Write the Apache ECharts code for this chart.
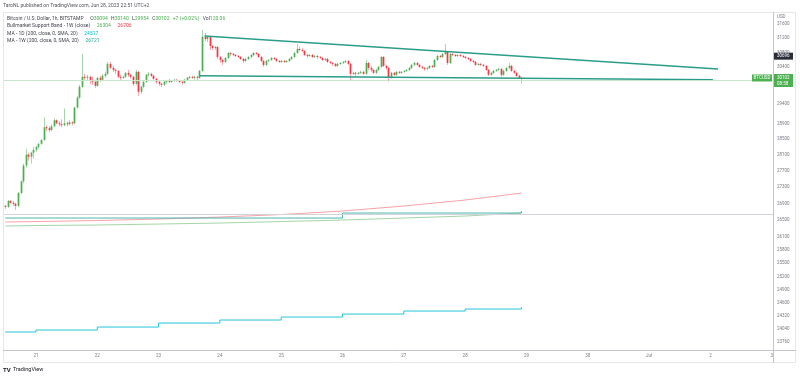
<!DOCTYPE html>
<html lang="en">
<head>
<meta charset="UTF-8">
<title>BTCUSD 1h</title>
<style>
  html, body { margin: 0; padding: 0; background: #fff; }
  #main { width: 800px; height: 378px; }
</style>
</head>
<body>
<div id="main"></div>
<script src="https://cdn.jsdelivr.net/npm/echarts@6.0.0/dist/echarts.min.js"></script>
<script>
// BITSTAMP BTCUSD, 1h bars, chart clock UTC+2, first bar 20 Jun 12:00
// each row: [open, close, low, high]
const ohlc = [
  // 20 Jun
  [26844, 26820, 26773, 26868], [26820, 26963, 26797, 26987], [26963, 26916, 26892, 26987],
  [26916, 26892, 26844, 26963], [26892, 26844, 26749, 26916], [26844, 27154, 26820, 27178],
  [27154, 27440, 27130, 27465], [27440, 27830, 27391, 27880], [27830, 28103, 27780, 28252],
  [28103, 28054, 27954, 28153], [28054, 28153, 27880, 28178], [28153, 28227, 28004, 28302],
  // 21 Jun
  [28227, 28302, 28178, 28327], [28302, 28377, 28252, 28402], [28377, 28477, 28352, 28502],
  [28477, 28803, 28452, 29056], [28803, 28779, 28704, 28854], [28779, 28729, 28679, 28828],
  [28729, 28828, 28704, 28880], [28828, 28982, 28803, 29033], [28982, 28905, 28880, 29008],
  [28905, 28880, 28828, 28957], [28880, 28854, 28803, 29008], [28854, 28905, 28828, 29290],
  [28905, 28880, 28828, 28957], [28880, 28931, 28854, 28982], [28931, 28905, 28854, 28957],
  [28905, 29314, 28880, 29340], [29314, 29574, 29290, 29627], [29574, 29865, 29549, 29919],
  [29865, 30133, 29839, 30757], [30133, 30106, 30052, 30214], [30106, 30133, 30025, 30187],
  [30133, 30052, 29945, 30160], [30052, 29999, 29919, 30133], [29999, 29892, 29839, 30052],
  // 22 Jun
  [29892, 30106, 29865, 30133], [30106, 30052, 29999, 30160], [30052, 30160, 30025, 30214],
  [30160, 30214, 30106, 30268], [30214, 30484, 30187, 30538], [30484, 30375, 30348, 30538],
  [30375, 30321, 30268, 30430], [30321, 30294, 30214, 30348], [30294, 30133, 30106, 30321],
  [30133, 30106, 30052, 30187], [30106, 30133, 30079, 30160], [30133, 30241, 30106, 30268],
  [30241, 30187, 30133, 30321], [30187, 30133, 30079, 30214], [30133, 29945, 29892, 30160],
  [29945, 30268, 29919, 30321], [30268, 29733, 29627, 30294], [29733, 29865, 29680, 29892],
  [29865, 29999, 29839, 30052], [29999, 30187, 29972, 30214], [30187, 30214, 30133, 30268],
  [30214, 30160, 30133, 30241], [30160, 30079, 30052, 30187], [30079, 29999, 29945, 30106],
  // 23 Jun
  [29999, 29945, 29892, 30025], [29945, 29919, 29865, 29972], [29919, 29999, 29892, 30025],
  [29999, 30025, 29945, 30052], [30025, 29999, 29972, 30079], [29999, 30025, 29972, 30052],
  [30025, 30052, 29999, 30079], [30052, 30025, 29999, 30079], [30025, 29999, 29972, 30052],
  [29999, 29972, 29919, 30025], [29972, 30052, 29945, 30079], [30052, 30106, 30025, 30133],
  [30106, 30133, 30079, 30160], [30133, 30106, 30079, 30160], [30106, 30133, 30052, 30160],
  [30133, 30106, 30025, 30160], [30106, 30294, 30079, 30321], [30294, 31228, 30268, 31424],
  [31228, 31172, 31116, 31340], [31172, 31228, 31088, 31256], [31228, 30977, 30867, 31256],
  [30977, 30922, 30867, 31005], [30922, 30950, 30867, 30977], [30950, 30674, 30620, 30977],
  // 24 Jun
  [30674, 30593, 30511, 30702], [30593, 30538, 30457, 30620], [30538, 30647, 30511, 30674],
  [30647, 30784, 30620, 30812], [30784, 30757, 30702, 30812], [30757, 30729, 30702, 30784],
  [30729, 30702, 30674, 30757], [30702, 30674, 30647, 30729], [30674, 30620, 30593, 30702],
  [30620, 30565, 30511, 30647], [30565, 30620, 30538, 30647], [30620, 30674, 30593, 30702],
  [30674, 30729, 30647, 30757], [30729, 30784, 30702, 30812], [30784, 30757, 30729, 30812],
  [30757, 30674, 30647, 30784], [30674, 30565, 30538, 30702], [30565, 30457, 30403, 30593],
  [30457, 30565, 30430, 30593], [30565, 30593, 30538, 30620], [30593, 30647, 30565, 30674],
  [30647, 30620, 30593, 30674], [30620, 30565, 30538, 30647], [30565, 30538, 30511, 30593],
  // 25 Jun
  [30538, 30565, 30511, 30593], [30565, 30538, 30511, 30593], [30538, 30565, 30511, 30593],
  [30565, 30620, 30538, 30647], [30620, 30674, 30593, 30702], [30674, 30784, 30647, 30812],
  [30784, 30894, 30757, 31033], [30894, 30867, 30839, 30950], [30867, 30839, 30812, 30922],
  [30839, 30729, 30702, 30867], [30729, 30702, 30647, 30757], [30702, 30729, 30674, 30757],
  [30729, 30674, 30647, 30757], [30674, 30702, 30647, 30729], [30702, 30674, 30620, 30729],
  [30674, 30647, 30620, 30702], [30647, 30593, 30565, 30674], [30593, 30620, 30565, 30647],
  [30620, 30538, 30511, 30647], [30538, 30511, 30484, 30565], [30511, 30484, 30430, 30538],
  [30484, 30430, 30403, 30511], [30430, 30484, 30403, 30511], [30484, 30511, 30457, 30538],
  // 26 Jun
  [30511, 30538, 30484, 30565], [30538, 30565, 30511, 30593], [30565, 30484, 30457, 30593],
  [30484, 30214, 30025, 30511], [30214, 30241, 30187, 30268], [30241, 30214, 30160, 30268],
  [30214, 30241, 30187, 30268], [30241, 30268, 30214, 30294], [30268, 30214, 30187, 30294],
  [30214, 30511, 30187, 30593], [30511, 30375, 30321, 30538], [30375, 30321, 30268, 30430],
  [30321, 30241, 30214, 30348], [30241, 30321, 30214, 30348], [30321, 30403, 30294, 30430],
  [30403, 30674, 30375, 30702], [30674, 30430, 30403, 30702], [30430, 30375, 30321, 30457],
  [30375, 30106, 29999, 30403], [30106, 30241, 30079, 30268], [30241, 30187, 30160, 30268],
  [30187, 30268, 30160, 30294], [30268, 30241, 30214, 30294], [30241, 30268, 30214, 30294],
  // 27 Jun
  [30268, 30294, 30241, 30321], [30294, 30321, 30268, 30348], [30321, 30375, 30294, 30403],
  [30375, 30457, 30348, 30484], [30457, 30511, 30430, 30538], [30511, 30457, 30430, 30538],
  [30457, 30403, 30375, 30484], [30403, 30375, 30348, 30430], [30375, 30348, 30294, 30403],
  [30348, 30375, 30321, 30403], [30375, 30430, 30348, 30457], [30430, 30403, 30375, 30457],
  [30403, 30593, 30375, 30620], [30593, 30702, 30565, 30729], [30702, 30674, 30647, 30729],
  [30674, 30757, 30647, 30784], [30757, 30812, 30729, 31033], [30812, 30511, 30457, 30839],
  [30511, 30757, 30484, 30784], [30757, 30729, 30702, 30784], [30729, 30702, 30674, 30757],
  [30702, 30729, 30674, 30757], [30729, 30702, 30674, 30757], [30702, 30674, 30647, 30729],
  // 28 Jun
  [30674, 30647, 30620, 30702], [30647, 30620, 30593, 30674], [30620, 30565, 30538, 30647],
  [30565, 30538, 30511, 30593], [30538, 30457, 30430, 30565], [30457, 30484, 30430, 30511],
  [30484, 30457, 30430, 30511], [30457, 30430, 30403, 30484], [30430, 30321, 30294, 30457],
  [30321, 30187, 30160, 30348], [30187, 30241, 30160, 30268], [30241, 30294, 30214, 30321],
  [30294, 30321, 30268, 30348], [30321, 30348, 30294, 30375], [30348, 30187, 30133, 30375],
  [30187, 30294, 30160, 30321], [30294, 30375, 30268, 30403], [30375, 30430, 30348, 30511],
  [30430, 30294, 30268, 30457], [30294, 30241, 30214, 30321], [30241, 30160, 30133, 30268],
  [30160, 30094, 30079, 30187], [30094, 30102, 29954, 30140]
];

// indicator points (daily / weekly values carried on the hourly chart)
const bandTimes = ['2023-06-20 12:00', '2023-06-21 00:00', '2023-06-22 00:00', '2023-06-23 00:00',
  '2023-06-24 00:00', '2023-06-25 00:00', '2023-06-26 00:00', '2023-06-27 00:00',
  '2023-06-28 00:00', '2023-06-28 22:00'];
const bandRed = [26458, 26469, 26493, 26529, 26576, 26636, 26720, 26840, 26984, 27154];
const bandGreen = [26363, 26375, 26387, 26410, 26434, 26469, 26505, 26553, 26600, 26672];
const ma1d = [23975, 24018, 24082, 24169, 24234, 24299, 24364, 24430, 24474, 24517];
const ma1wTimes = ['2023-06-20 12:00', '2023-06-26 00:00', '2023-06-28 22:00'];
const ma1w = [26553, 26672, 26721];

// legend readouts as shown on the chart
const barChange = '+7 (+0.02%)';
const barVolume = '120.06';
const bandLegend = [26304, 26706];
const ma1dLegend = 24517;
const ma1wLegend = 26721;

// drawn trend lines
const upperTrend = [['2023-06-23 18:00', 31256], ['2023-07-02 03:00', 30348]];
const lowerTrend = [['2023-06-23 16:00', 30160], ['2023-07-02 01:00', 30052]];
const levelLine = 26672;
const trendLabel = 30696;

const priceTicks = [31600, 31200, 30800, 30400, 29900, 29400, 28900, 28500, 28100, 27700, 27300,
  26900, 26500, 26100, 25800, 25500, 25200, 24900, 24600, 24320, 24040, 23760];
const priceRange = [23592, 31935];

// hourly time slots, 20 Jun 12:00 .. 3 Jul 00:00
const firstBar = Date.UTC(2023, 5, 20, 12);
const slotCount = 301;
const pad = n => String(n).padStart(2, '0');
const categories = [];
for (let i = 0; i < slotCount; i++) {
  const d = new Date(firstBar + i * 3600e3);
  categories.push(d.getUTCFullYear() + '-' + pad(d.getUTCMonth() + 1) + '-' + pad(d.getUTCDate()) +
    ' ' + pad(d.getUTCHours()) + ':00');
}

const upColor = '#4caf50', downColor = '#f23645';
const upWick = '#a8d5b0', downWick = '#f6a8ae';
const FONT = 'Roboto, "Liberation Sans", sans-serif';

const candleData = ohlc.map((r, i) => [i, Math.log(r[0]), Math.log(r[1]), Math.log(r[2]), Math.log(r[3])]);
const pts = (times, vals) => times.map((t, i) => [t, Math.log(vals[i])]);
const logPts = arr => arr.map(p => [p[0], Math.log(p[1])]);

function renderCandle(params, api) {
  const i = api.value(0);
  const o = api.value(1), c = api.value(2);
  const po = api.coord([i, o]), pc = api.coord([i, c]);
  const pl = api.coord([i, api.value(3)]), ph = api.coord([i, api.value(4)]);
  const w = api.size([1, 0])[0] * 0.68;
  const up = c >= o;
  const x = Math.round(po[0]) + 0.5;
  const top = Math.min(po[1], pc[1]);
  const h = Math.max(Math.abs(po[1] - pc[1]), 1);
  return {
    type: 'group',
    children: [
      { type: 'line', shape: { x1: x, y1: ph[1], x2: x, y2: pl[1] },
        style: { stroke: up ? upWick : downWick, lineWidth: 1 } },
      { type: 'rect', shape: { x: x - w / 2, y: top, width: w, height: h },
        style: { fill: up ? upColor : downColor } }
    ]
  };
}

const last = ohlc[ohlc.length - 1];

const myChart = echarts.init(document.getElementById('main'));

const frame = [
  { type: 'rect', shape: { x: 3.5, y: 12.5, width: 792, height: 350 }, style: { fill: 'none', stroke: '#e6e7ea', lineWidth: 1 }, silent: true },
  { type: 'line', shape: { x1: 773.5, y1: 12, x2: 773.5, y2: 363 }, style: { stroke: '#c3c5cb', lineWidth: 1 }, silent: true },
  { type: 'line', shape: { x1: 3, y1: 350.5, x2: 796, y2: 350.5 }, style: { stroke: '#c3c5cb', lineWidth: 1 }, silent: true }
];

const texts = [
  { type: 'text', x: 3, y: 6, style: { text: 'TaroNL published on TradingView.com, Jun 28, 2023 22:51 UTC+2',
      fill: '#50535e', font: '5px ' + FONT, verticalAlign: 'middle' } },
  { type: 'text', x: 7, y: 19, style: {
      text: '{t|Bitcoin / U.S. Dollar, 1h, BITSTAMP}  {t|O}{g|' + last[0] + '} {t|H}{g|' + last[3] +
        '} {t|L}{g|' + last[2] + '} {t|C}{g|' + last[1] + '} {g|' + barChange + '} {t|Vol}{g|' + barVolume + '}',
      verticalAlign: 'middle',
      rich: { t: { fill: '#434651', font: '5px ' + FONT }, g: { fill: upColor, font: '5px ' + FONT } } } },
  { type: 'text', x: 7, y: 26, style: {
      text: '{t|Bullmarket Support Band - 1W (close)}  {g|' + bandLegend[0] + '}  {r|' + bandLegend[1] + '}', verticalAlign: 'middle',
      rich: { t: { fill: '#434651', font: '5px ' + FONT }, g: { fill: upColor, font: '5px ' + FONT }, r: { fill: downColor, font: '5px ' + FONT } } } },
  { type: 'text', x: 7, y: 34, style: {
      text: '{t|MA - 1D (200, close, 0, SMA, 20)}  {c|' + ma1dLegend + '}', verticalAlign: 'middle',
      rich: { t: { fill: '#434651', font: '5px ' + FONT }, c: { fill: '#00bcd4', font: '5px ' + FONT } } } },
  { type: 'text', x: 7, y: 41, style: {
      text: '{t|MA - 1W (200, close, 0, SMA, 20)}  {c|' + ma1wLegend + '}', verticalAlign: 'middle',
      rich: { t: { fill: '#434651', font: '5px ' + FONT }, c: { fill: '#26a69a', font: '5px ' + FONT } } } },
  { type: 'text', x: 777, y: 17, style: { text: 'USD', fill: '#787b86', font: '4.5px ' + FONT, verticalAlign: 'middle' } },
  { type: 'text', x: 3, y: 370, style: { text: 'TV', fill: '#131722', font: 'bold 6px ' + FONT, verticalAlign: 'middle' } },
  { type: 'text', x: 13, y: 370, style: { text: 'TradingView', fill: '#131722', font: '5.5px ' + FONT, verticalAlign: 'middle' } }
];

const option = {
  animation: false,
  backgroundColor: '#ffffff',
  grid: { left: 4, right: 27, top: 12, bottom: 28 },
  xAxis: {
    type: 'category',
    data: categories,
    boundaryGap: true,
    axisLine: { show: false },
    axisTick: { show: false },
    splitLine: { show: false },
    axisLabel: {
      interval: (idx, v) => v.slice(11) === '00:00',
      formatter: v => (+v.slice(8, 10) === 1 ? 'Jul' : String(+v.slice(8, 10))),
      color: '#787b86', fontSize: 4.5, fontFamily: FONT, margin: 3
    }
  },
  yAxis: {
    type: 'value',
    position: 'right',
    min: Math.log(priceRange[0]),
    max: Math.log(priceRange[1]),
    axisLine: { show: false },
    axisTick: { show: false },
    splitLine: { show: false },
    axisLabel: {
      customValues: priceTicks.map(Math.log),
      formatter: v => String(Math.round(Math.exp(v) / 10) * 10),
      color: '#787b86', fontSize: 4.5, fontFamily: FONT, margin: 4
    }
  },
  series: [
    { type: 'line', data: pts(bandTimes, bandRed), showSymbol: false,
      lineStyle: { color: '#f7a3a8', width: 1 }, z: 2 },
    { type: 'line', data: pts(bandTimes, bandGreen), showSymbol: false,
      lineStyle: { color: '#a5d6a7', width: 1 }, z: 2 },
    { type: 'line', step: 'end', data: pts(ma1wTimes, ma1w), showSymbol: false,
      lineStyle: { color: '#4db6ac', width: 1 }, z: 2,
      markLine: { silent: true, symbol: 'none', label: { show: false },
        lineStyle: { color: '#d1d4dc', width: 1, type: 'solid' },
        data: [{ yAxis: Math.log(levelLine) }] } },
    { type: 'line', step: 'end', data: pts(bandTimes, ma1d), showSymbol: false,
      lineStyle: { color: '#26c6da', width: 1 }, z: 2 },
    { type: 'custom', renderItem: renderCandle, data: candleData, encode: { x: 0, y: [1, 2, 3, 4] }, z: 3,
      markLine: { silent: true, symbol: 'none', label: { show: false },
        lineStyle: { color: '#c8e6c9', width: 1, type: 'solid' },
        data: [{ yAxis: Math.log(last[1]) }] } },
    { type: 'line', data: logPts(upperTrend), showSymbol: false,
      lineStyle: { color: '#2a9d8a', width: 1.5 }, z: 4 },
    { type: 'line', data: logPts(lowerTrend), showSymbol: false,
      lineStyle: { color: '#2a9d8a', width: 1.5 }, z: 4 }
  ],
  graphic: frame.concat(texts)
};
myChart.setOption(option);

// price-scale tags placed through the axis scale
const yOf = p => myChart.convertToPixel({ yAxisIndex: 0 }, Math.log(p));
const yClose = yOf(last[1]);
const yTrend = yOf(trendLabel);
const tags = [
  { type: 'rect', shape: { x: 752, y: yClose - 3.5, width: 20, height: 7 }, style: { fill: upColor }, z: 10 },
  { type: 'text', x: 762, y: yClose, style: { text: 'BTCUSD', fill: '#fff', font: '4.5px ' + FONT, align: 'center', verticalAlign: 'middle' }, z: 11 },
  { type: 'rect', shape: { x: 774, y: yClose - 4, width: 19, height: 13 }, style: { fill: upColor }, z: 10 },
  { type: 'text', x: 777, y: yClose, style: { text: String(last[1]), fill: '#fff', font: '4.5px ' + FONT, verticalAlign: 'middle' }, z: 11 },
  { type: 'text', x: 777, y: yClose + 5.5, style: { text: '08:58', fill: '#fff', font: '4.5px ' + FONT, verticalAlign: 'middle' }, z: 11 },
  { type: 'rect', shape: { x: 774, y: yTrend - 3.5, width: 19, height: 7 }, style: { fill: '#2a2e39' }, z: 10 },
  { type: 'text', x: 777, y: yTrend, style: { text: String(trendLabel), fill: '#fff', font: '4.5px ' + FONT, verticalAlign: 'middle' }, z: 11 }
];
myChart.setOption({ graphic: frame.concat(texts, tags) });
</script>
</body>
</html>
